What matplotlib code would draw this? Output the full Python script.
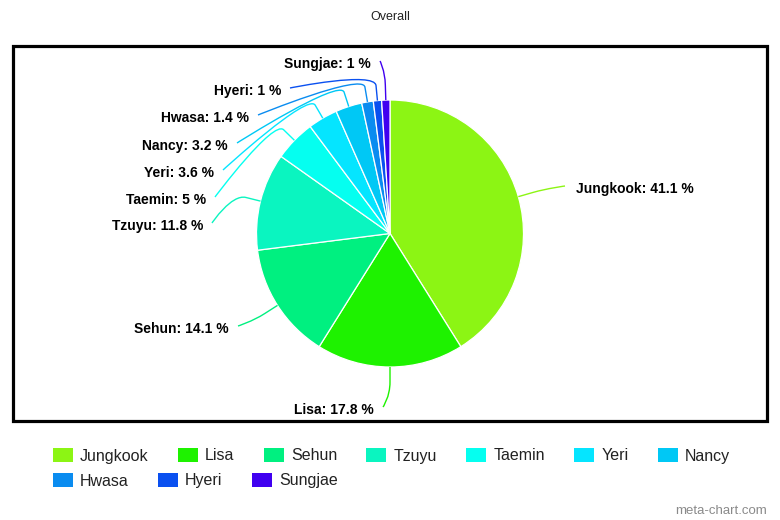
import matplotlib
matplotlib.use("Agg")
import numpy as np
import matplotlib.pyplot as plt
from matplotlib.path import Path
from matplotlib.patches import PathPatch, Rectangle

# ---- data ----
names = ["Jungkook", "Lisa", "Sehun", "Tzuyu", "Taemin", "Yeri", "Nancy",
         "Hwasa", "Hyeri", "Sungjae"]
values = [41.1, 17.8, 14.1, 11.8, 5, 3.6, 3.2, 1.4, 1, 1]
colors = ["#8cf514", "#1ef200", "#00f080", "#0af5c0", "#05fff0", "#05e5ff",
          "#00c8f5", "#0a8cf0", "#0a50f0", "#4000f0"]
title = "Overall"

# ---- layout (pixel positions, y measured from top) ----
W, H = 780, 520
CX, CY, RAD = 390, 233.5, 133.5
label_anchor = [(565, 186), (383, 407), (238, 326), (212, 223), (215, 197),
                (223, 170), (237, 143), (258, 115), (290, 88), (380, 61)]
BREAK = 15

label_font = ["Liberation Sans", "DejaVu Sans"]
legend_font = ["Liberation Sans", "DejaVu Sans"]

def Y(y):
    return H - y

fig = plt.figure(figsize=(W / 100, H / 100), dpi=100)
ax = fig.add_axes([0, 0, 1, 1])

wedges, _ = ax.pie(values, colors=colors, startangle=90, counterclock=False,
                   center=(CX, Y(CY)), radius=RAD, frame=True,
                   wedgeprops=dict(edgecolor="white", linewidth=0.9))
ax.set_xlim(0, W)
ax.set_ylim(0, H)
ax.set_aspect("equal")
ax.axis("off")

# frame
ax.add_patch(Rectangle((13, Y(421)), 766.5 - 13, 421 - 45.5, fill=False,
                       edgecolor="black", linewidth=2.3, zorder=0))

# title
ax.text(390, Y(17), title, ha="center", va="center", fontsize=9,
        family=label_font, color="#222222")

# labels and connectors
for w, name, val, col, (lx, ly) in zip(wedges, names, values, colors, label_anchor):
    mid = np.deg2rad((w.theta1 + w.theta2) / 2)
    d = np.array([np.cos(mid), np.sin(mid)])
    c = np.array([CX, Y(CY)])
    p4 = c + RAD * d
    p2 = c + (RAD + BREAK) * d
    c2 = c + (RAD + 2 * BREAK) * d
    a = np.array([lx, Y(ly)])
    path = Path([a, a, c2, p2, p4],
                [Path.MOVETO, Path.CURVE4, Path.CURVE4, Path.CURVE4, Path.LINETO])
    ax.add_patch(PathPatch(path, fill=False, edgecolor=col, linewidth=1.0))
    right = lx > CX
    txt = f"{name}: {val:g} %"
    if right:
        ax.text(lx + 11, Y(ly + 3), txt, ha="left", va="center", fontsize=10,
                fontweight="bold", family=label_font, color="black")
    else:
        ax.text(lx - 9, Y(ly + 3), txt, ha="right", va="center", fontsize=10,
                fontweight="bold", family=label_font, color="black")

# legend (manual, Highcharts-like)
renderer = fig.canvas.get_renderer()
PER_ROW = 7
row_y = [454.5, 479.5]
x0 = 52.5
SYM_W, SYM_H = 20, 14
x = x0
for i, (name, col) in enumerate(zip(names, colors)):
    if i == PER_ROW:
        x = x0
    ry = row_y[i // PER_ROW]
    ax.add_patch(Rectangle((x, Y(ry + SYM_H / 2)), SYM_W, SYM_H, facecolor=col,
                           edgecolor="none"))
    t = ax.text(x + 27.5, Y(ry + 6), name, ha="left", va="baseline",
                fontsize=11.5, family=legend_font, color="#222222")
    bb = t.get_window_extent(renderer)
    x = x + 27.5 + bb.width + 29

# watermark
ax.text(767, Y(514), "meta-chart.com", ha="right", va="baseline", fontsize=9.5,
        family=legend_font, color="#8a8a8a")

fig.savefig("out.png", dpi=100)
